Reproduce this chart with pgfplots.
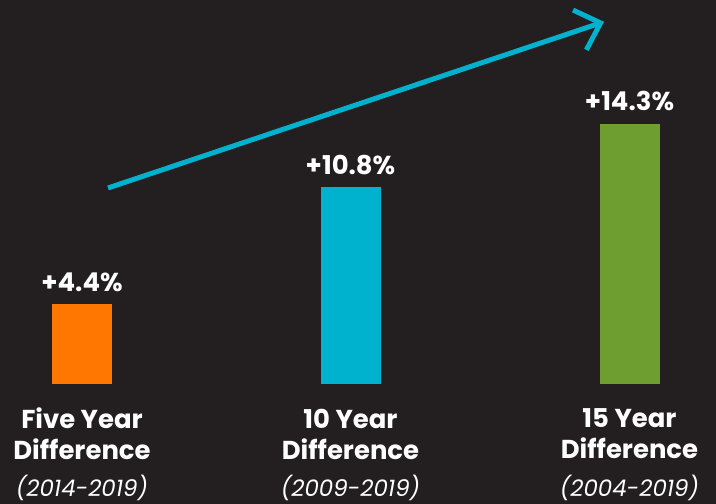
\documentclass[border=0pt]{standalone}
\usepackage{fontspec}
\setmainfont{Poppins}
\usepackage{pgfplots}
\pgfplotsset{compat=1.18}
\usetikzlibrary{arrows.meta}
\definecolor{bg}{HTML}{231F20}
\definecolor{c1}{HTML}{FF7700}
\definecolor{c2}{HTML}{00B2CE}
\definecolor{c3}{HTML}{6E9E2F}
\begin{document}
\begin{tikzpicture}
\fill[bg] (0,0) rectangle (716bp,504bp);
\useasboundingbox (0,0) rectangle (716bp,504bp);
\begin{axis}[
  at={(0,0)}, anchor=south west,
  scale only axis, width=716bp, height=504bp,
  xmin=0, xmax=716, ymin=-6.593, ymax=21.099,
  axis lines=none, ticks=none, clip=false,
  /pgf/number format/assume math mode=true,
  barplot/.style={ybar, bar width=60bp, bar shift=0pt, draw=none,
    nodes near coords={\bfseries+\pgfmathprintnumber[fixed,precision=1,fixed zerofill,assume math mode=true]{\pgfplotspointmeta}\%},
    every node near coord/.append style={font=\fontsize{26}{28}\selectfont\bfseries, text=white, yshift=9bp}},
]
\addplot[barplot, fill=c1] coordinates {(82,4.4)};
\addplot[barplot, fill=c2] coordinates {(350.5,10.8)};
\addplot[barplot, fill=c3] coordinates {(629.5,14.3)};
\addplot[c2, line width=5bp, -{Straight Barb[length=22bp, width=42bp, line width=5bp]}] coordinates {(108,10.77) (604,19.9)};
\begin{scope}[every node/.style={text=white, align=center}]
\node[font=\fontsize{26}{31}\selectfont\bfseries] at (axis cs:82,-2.75) {Five Year\\Difference};
\node[font=\fontsize{26}{31}\selectfont\bfseries] at (axis cs:350.5,-2.75) {10 Year\\Difference};
\node[font=\fontsize{26}{31}\selectfont\bfseries] at (axis cs:629.5,-2.75) {15 Year\\Difference};
\node[font=\fontsize{23}{25}\selectfont\itshape] at (axis cs:82,-5.7) {(2014-2019)};
\node[font=\fontsize{23}{25}\selectfont\itshape] at (axis cs:350.5,-5.7) {(2009-2019)};
\node[font=\fontsize{23}{25}\selectfont\itshape] at (axis cs:629.5,-5.7) {(2004-2019)};
\end{scope}
\end{axis}
\end{tikzpicture}
\end{document}
